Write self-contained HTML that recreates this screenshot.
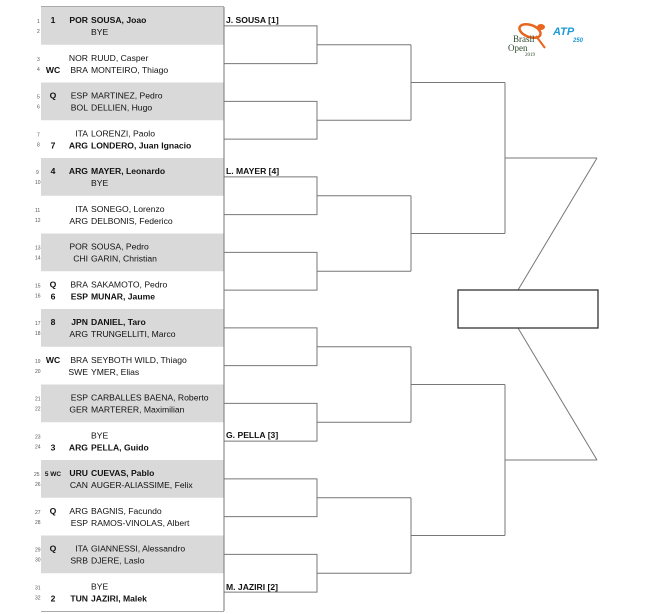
<!DOCTYPE html>
<html><head><meta charset="utf-8"><style>
html,body{margin:0;padding:0;background:#fff;width:650px;height:614px;overflow:hidden}
svg{display:block}
text{font-family:"Liberation Sans",Arial,sans-serif;font-size:8.6px;fill:#111}
.b{font-weight:bold}
.n{font-size:5px;fill:#555}
.c{text-anchor:end}
.s{text-anchor:middle;font-weight:bold}
</style></head><body>
<svg width="650" height="614" viewBox="0 0 650 614">
<g fill="#d9d9d9">
<rect x="41" y="7" width="183" height="37.75"/>
<rect x="41" y="82.5" width="183" height="37.75"/>
<rect x="41" y="158" width="183" height="37.75"/>
<rect x="41" y="233.5" width="183" height="37.75"/>
<rect x="41" y="309" width="183" height="37.75"/>
<rect x="41" y="384.5" width="183" height="37.75"/>
<rect x="41" y="460" width="183" height="37.75"/>
<rect x="41" y="535.5" width="183" height="37.75"/>
</g>
<g stroke="#777" stroke-width="1" fill="none">
<line x1="41" y1="6.5" x2="224" y2="6.5" stroke="#aaa"/>
<line x1="41" y1="611.5" x2="224" y2="611.5" stroke="#aaa"/>
<line x1="224" y1="7" x2="224" y2="611"/>
<!-- R2 -->
<path d="M224 25.9H317V63.6H224M317 44.75H411"/>
<path d="M224 101.4H317V139.1H224M317 120.25H411"/>
<path d="M224 176.9H317V214.6H224M317 195.75H411"/>
<path d="M224 252.4H317V290.1H224M317 271.25H411"/>
<path d="M224 327.9H317V365.6H224M317 346.75H411"/>
<path d="M224 403.4H317V441.1H224M317 422.25H411"/>
<path d="M224 478.9H317V516.6H224M317 497.75H411"/>
<path d="M224 554.4H317V592.1H224M317 573.25H411"/>
<!-- R3 -->
<path d="M411 44.75V120.25M411 82.5H505"/>
<path d="M411 195.75V271.25M411 233.5H505"/>
<path d="M411 346.75V422.25M411 384.5H505"/>
<path d="M411 497.75V573.25M411 535.5H505"/>
<!-- R4 -->
<path d="M505 82.5V233.5M505 158H597"/>
<path d="M505 384.5V535.5M505 460H597"/>
<path d="M597 158L518 290M518 328L597 460"/>
<rect x="458" y="290" width="140" height="38" stroke="#333" stroke-width="1.3"/>
</g>
<!-- logos -->
<g>
<ellipse cx="530" cy="31" rx="11" ry="6" fill="none" stroke="#e8661e" stroke-width="2.5" transform="rotate(20 530 31)"/>
<line x1="536" y1="36" x2="545" y2="48" stroke="#e8661e" stroke-width="2"/>
<ellipse cx="541" cy="27" rx="4" ry="3" fill="#e8661e"/>
<text x="513" y="42" style="font-family:'Liberation Serif',serif;font-size:9px;fill:#2d4a2d">Brasil</text>
<text x="508" y="51" style="font-family:'Liberation Serif',serif;font-size:9px;fill:#2d4a2d">Open</text>
<text x="525" y="56" style="font-family:'Liberation Serif',serif;font-size:5px;fill:#2d4a2d">2019</text>
<text x="553" y="35" style="font-size:11px;font-weight:bold;font-style:italic;fill:#1e9ad6">ATP</text>
<text x="573" y="42" style="font-size:6px;font-weight:bold;font-style:italic;fill:#1e9ad6">250</text>
</g>
<!-- labels -->
<text x="226" y="23" class="b">J. SOUSA [1]</text>
<text x="226" y="174" class="b">L. MAYER [4]</text>
<text x="226" y="438" class="b">G. PELLA [3]</text>
<text x="226" y="590" class="b">M. JAZIRI [2]</text>

<g transform="translate(0,7)">
<text x="37" y="16" class="n">1</text><text x="37" y="26" class="n">2</text>
<text x="53" y="16" class="s">1</text><text x="88" y="16" class="c b">POR</text><text x="91" y="16" class="b">SOUSA, Joao</text>
<text x="91" y="28">BYE</text></g>
<g transform="translate(0,44.75)">
<text x="37" y="16" class="n">3</text><text x="37" y="26" class="n">4</text>
<text x="88" y="16" class="c">NOR</text><text x="91" y="16">RUUD, Casper</text>
<text x="53" y="28" class="s">WC</text><text x="88" y="28" class="c">BRA</text><text x="91" y="28">MONTEIRO, Thiago</text></g>
<g transform="translate(0,82.5)">
<text x="37" y="16" class="n">5</text><text x="37" y="26" class="n">6</text>
<text x="53" y="16" class="s">Q</text><text x="88" y="16" class="c">ESP</text><text x="91" y="16">MARTINEZ, Pedro</text>
<text x="88" y="28" class="c">BOL</text><text x="91" y="28">DELLIEN, Hugo</text></g>
<g transform="translate(0,120.25)">
<text x="37" y="16" class="n">7</text><text x="37" y="26" class="n">8</text>
<text x="88" y="16" class="c">ITA</text><text x="91" y="16">LORENZI, Paolo</text>
<text x="53" y="28" class="s">7</text><text x="88" y="28" class="c b">ARG</text><text x="91" y="28" class="b">LONDERO, Juan Ignacio</text></g>
<g transform="translate(0,158)">
<text x="36" y="16" class="n">9</text><text x="35" y="26" class="n">10</text>
<text x="53" y="16" class="s">4</text><text x="88" y="16" class="c b">ARG</text><text x="91" y="16" class="b">MAYER, Leonardo</text>
<text x="91" y="28">BYE</text></g>
<g transform="translate(0,195.75)">
<text x="35" y="16" class="n">11</text><text x="35" y="26" class="n">12</text>
<text x="88" y="16" class="c">ITA</text><text x="91" y="16">SONEGO, Lorenzo</text>
<text x="88" y="28" class="c">ARG</text><text x="91" y="28">DELBONIS, Federico</text></g>
<g transform="translate(0,233.5)">
<text x="35" y="16" class="n">13</text><text x="35" y="26" class="n">14</text>
<text x="88" y="16" class="c">POR</text><text x="91" y="16">SOUSA, Pedro</text>
<text x="88" y="28" class="c">CHI</text><text x="91" y="28">GARIN, Christian</text></g>
<g transform="translate(0,271.25)">
<text x="35" y="16" class="n">15</text><text x="35" y="26" class="n">16</text>
<text x="53" y="16" class="s">Q</text><text x="88" y="16" class="c">BRA</text><text x="91" y="16">SAKAMOTO, Pedro</text>
<text x="53" y="28" class="s">6</text><text x="88" y="28" class="c b">ESP</text><text x="91" y="28" class="b">MUNAR, Jaume</text></g>
<g transform="translate(0,309)">
<text x="35" y="16" class="n">17</text><text x="35" y="26" class="n">18</text>
<text x="53" y="16" class="s">8</text><text x="88" y="16" class="c b">JPN</text><text x="91" y="16" class="b">DANIEL, Taro</text>
<text x="88" y="28" class="c">ARG</text><text x="91" y="28">TRUNGELLITI, Marco</text></g>
<g transform="translate(0,346.75)">
<text x="35" y="16" class="n">19</text><text x="35" y="26" class="n">20</text>
<text x="53" y="16" class="s">WC</text><text x="88" y="16" class="c">BRA</text><text x="91" y="16">SEYBOTH WILD, Thiago</text>
<text x="88" y="28" class="c">SWE</text><text x="91" y="28">YMER, Elias</text></g>
<g transform="translate(0,384.5)">
<text x="35" y="16" class="n">21</text><text x="35" y="26" class="n">22</text>
<text x="88" y="16" class="c">ESP</text><text x="91" y="16">CARBALLES BAENA, Roberto</text>
<text x="88" y="28" class="c">GER</text><text x="91" y="28">MARTERER, Maximilian</text></g>
<g transform="translate(0,422.25)">
<text x="35" y="16" class="n">23</text><text x="35" y="26" class="n">24</text>
<text x="91" y="16">BYE</text>
<text x="53" y="28" class="s">3</text><text x="88" y="28" class="c b">ARG</text><text x="91" y="28" class="b">PELLA, Guido</text></g>
<g transform="translate(0,460)">
<text x="34" y="16" class="n">25</text><text x="35" y="26" class="n">26</text>
<text x="53" y="16" class="s" style="font-size:6.5px">5 WC</text><text x="88" y="16" class="c b">URU</text><text x="91" y="16" class="b">CUEVAS, Pablo</text>
<text x="88" y="28" class="c">CAN</text><text x="91" y="28">AUGER-ALIASSIME, Felix</text></g>
<g transform="translate(0,497.75)">
<text x="35" y="16" class="n">27</text><text x="35" y="26" class="n">28</text>
<text x="53" y="16" class="s">Q</text><text x="88" y="16" class="c">ARG</text><text x="91" y="16">BAGNIS, Facundo</text>
<text x="88" y="28" class="c">ESP</text><text x="91" y="28">RAMOS-VINOLAS, Albert</text></g>
<g transform="translate(0,535.5)">
<text x="35" y="16" class="n">29</text><text x="35" y="26" class="n">30</text>
<text x="53" y="16" class="s">Q</text><text x="88" y="16" class="c">ITA</text><text x="91" y="16">GIANNESSI, Alessandro</text>
<text x="88" y="28" class="c">SRB</text><text x="91" y="28">DJERE, Laslo</text></g>
<g transform="translate(0,573.25)">
<text x="35" y="16" class="n">31</text><text x="35" y="26" class="n">32</text>
<text x="91" y="16">BYE</text>
<text x="53" y="28" class="s">2</text><text x="88" y="28" class="c b">TUN</text><text x="91" y="28" class="b">JAZIRI, Malek</text></g>
</svg>
</body></html>
